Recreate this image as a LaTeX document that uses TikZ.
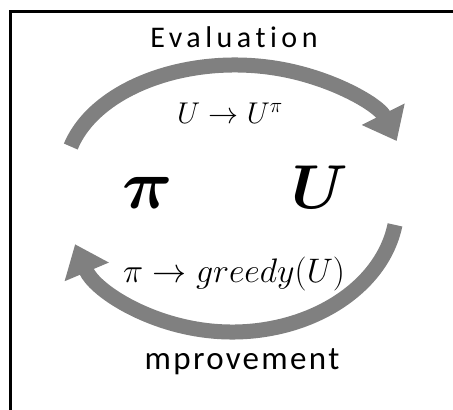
\RequirePackage{fix-cm}
\documentclass[tikz,border=0pt]{standalone}
\usepackage{amsmath}
\usepackage{fontspec}
\newfontfamily\labelfont[LetterSpace=15,Ligatures={NoCommon}]{Carlito}
\newfontfamily\labelfontb[LetterSpace=7,Ligatures={NoCommon}]{Carlito}
\usetikzlibrary{arrows.meta}
\definecolor{arrowgray}{RGB}{128,128,128}
\tikzset{
  cyclearrow/.style={draw=arrowgray, line width=15pt, -{Triangle[width=46pt,length=30pt]}},
  wordlabel/.style={anchor=base, inner sep=0pt},
  mathlabel/.style={anchor=base, inner sep=0pt, font=\fontsize{30}{34}\selectfont},
  bigsym/.style={anchor=base, inner sep=0pt, font=\fontsize{62}{70}\selectfont},
  frameline/.style={line width=2.5pt, black}
}
\begin{document}
\begin{tikzpicture}[x=1pt,y=1pt]
\useasboundingbox (0,0) rectangle (453,-410);
% frame (only top and left visible)
\coordinate (fbl) at (10.7,-410);
\coordinate (ftl) at (10.7,-11.3);
\coordinate (ftr) at (453,-11.3);
\draw[frameline] (fbl) -- (ftl) -- (ftr);
% arrows
\coordinate (evalstart) at ({235+170*cos(165)},{-175+110*sin(165)});
\draw[cyclearrow] (evalstart) arc[start angle=165, end angle=18, x radius=170, y radius=110];
\coordinate (imprstart) at ({232+165*cos(-9)},{-205+127*sin(-9)});
\draw[cyclearrow] (imprstart) arc[start angle=-9, end angle=-162, x radius=165, y radius=127];
% texts
\node[wordlabel] (eval) at (234,-47) {\fontsize{30}{34}\labelfont Evaluation};
\node[wordlabel] (impr) at (242,-369) {\fontsize{33}{36}\labelfontb mprovement};
\node[mathlabel] (lab1) at (230,-123) {$U\to U^{\pi}$};
\node[mathlabel, font=\fontsize{34}{38}\selectfont] (lab2) at (234,-282) {$\pi\to greedy(U)$};
\node[bigsym, font=\fontsize{70}{78}\selectfont] (pi) at (148,-208) {$\boldsymbol{\pi}$};
\node[bigsym] (U) at (320,-208) {$\boldsymbol{U}$};
\end{tikzpicture}
\end{document}
